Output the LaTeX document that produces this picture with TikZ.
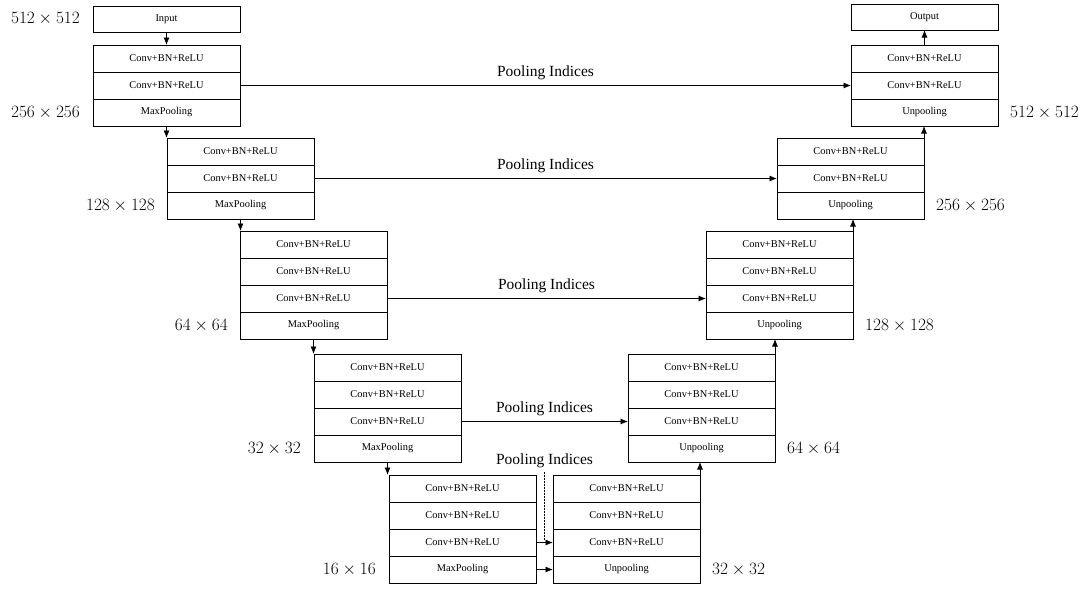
\documentclass[tikz,border=0pt]{standalone}
\usepackage{fontspec}
\setmainfont{Liberation Serif}
\usetikzlibrary{positioning,arrows.meta}

\begin{document}
\begin{tikzpicture}[
            x=1pt, y=1pt,
            >={Latex[length=7.5pt,width=6pt]},
            layer/.style={
                rectangle, draw=black, line width=0.8pt,
                minimum width=147pt, minimum height=27pt,
                inner sep=0pt, outer sep=0pt,
                font=\fontsize{10.4}{12}\selectfont
            },
            iobox/.style={layer, minimum height=26pt},
            size/.style={font=\fontsize{16.5}{18}\selectfont, inner sep=0pt},
            indices/.style={font=\fontsize{15.5}{18}\selectfont, above=1.5pt, midway},
            link/.style={->, line width=0.8pt},
        ]

            \useasboundingbox (0,0) rectangle (1089,-589);

            % encoder
            \node [iobox, anchor=north west] (input) at (93,-6) {Input};
            \node [layer, anchor=north west] (e1a) at (93,-45) {Conv+BN+ReLU};
            \node [layer] (e1b) [ below=0pt of e1a ] {Conv+BN+ReLU};
            \node [layer] (e1c) [ below=0pt of e1b ] {MaxPooling};

            \node [layer, anchor=north west] (e2a) at (167,-138) {Conv+BN+ReLU};
            \node [layer] (e2b) [ below=0pt of e2a ] {Conv+BN+ReLU};
            \node [layer] (e2c) [ below=0pt of e2b ] {MaxPooling};

            \node [layer, anchor=north west] (e3a) at (240,-231) {Conv+BN+ReLU};
            \node [layer] (e3b) [ below=0pt of e3a ] {Conv+BN+ReLU};
            \node [layer] (e3c) [ below=0pt of e3b ] {Conv+BN+ReLU};
            \node [layer] (e3d) [ below=0pt of e3c ] {MaxPooling};

            \node [layer, anchor=north west] (e4a) at (314,-354) {Conv+BN+ReLU};
            \node [layer] (e4b) [ below=0pt of e4a ] {Conv+BN+ReLU};
            \node [layer] (e4c) [ below=0pt of e4b ] {Conv+BN+ReLU};
            \node [layer] (e4d) [ below=0pt of e4c ] {MaxPooling};

            \node [layer, anchor=north west] (e5a) at (389,-475) {Conv+BN+ReLU};
            \node [layer] (e5b) [ below=0pt of e5a ] {Conv+BN+ReLU};
            \node [layer] (e5c) [ below=0pt of e5b ] {Conv+BN+ReLU};
            \node [layer] (e5d) [ below=0pt of e5c ] {MaxPooling};

            % decoder
            \node [iobox, anchor=north west] (output) at (851,-4) {Output};
            \node [layer, anchor=north west] (d1a) at (851,-45) {Conv+BN+ReLU};
            \node [layer] (d1b) [ below=0pt of d1a ] {Conv+BN+ReLU};
            \node [layer] (d1c) [ below=0pt of d1b ] {Unpooling};

            \node [layer, anchor=north west] (d2a) at (777,-138) {Conv+BN+ReLU};
            \node [layer] (d2b) [ below=0pt of d2a ] {Conv+BN+ReLU};
            \node [layer] (d2c) [ below=0pt of d2b ] {Unpooling};

            \node [layer, anchor=north west] (d3a) at (706,-231) {Conv+BN+ReLU};
            \node [layer] (d3b) [ below=0pt of d3a ] {Conv+BN+ReLU};
            \node [layer] (d3c) [ below=0pt of d3b ] {Conv+BN+ReLU};
            \node [layer] (d3d) [ below=0pt of d3c ] {Unpooling};

            \node [layer, anchor=north west] (d4a) at (628,-354) {Conv+BN+ReLU};
            \node [layer] (d4b) [ below=0pt of d4a ] {Conv+BN+ReLU};
            \node [layer] (d4c) [ below=0pt of d4b ] {Conv+BN+ReLU};
            \node [layer] (d4d) [ below=0pt of d4c ] {Unpooling};

            \node [layer, anchor=north west] (d5a) at (553,-475) {Conv+BN+ReLU};
            \node [layer] (d5b) [ below=0pt of d5a ] {Conv+BN+ReLU};
            \node [layer] (d5c) [ below=0pt of d5b ] {Conv+BN+ReLU};
            \node [layer] (d5d) [ below=0pt of d5c ] {Unpooling};

            % sizes
            \node [size] (s512l) [ left=13pt of input ] {$512\times512$};
            \node [size] (s256l) [ left=13pt of e1c ]   {$256\times256$};
            \node [size] (s128l) [ left=12pt of e2c ]   {$128\times128$};
            \node [size] (s64l)  [ left=12pt of e3d ]   {$64\times64$};
            \node [size] (s32l)  [ left=13pt of e4d ]   {$32\times32$};
            \node [size] (s16l)  [ left=13pt of e5d ]   {$16\times16$};
            \node [size] (s512r) [ right=12pt of d1c ]  {$512\times512$};
            \node [size] (s256r) [ right=12pt of d2c ]  {$256\times256$};
            \node [size] (s128r) [ right=12pt of d3d ]  {$128\times128$};
            \node [size] (s64r)  [ right=12pt of d4d ]  {$64\times64$};
            \node [size] (s32r)  [ right=12pt of d5d ]  {$32\times32$};

            % down and up
            \draw [link] (input) -- (e1a);
            \draw [link] (e1c.south) -- (e1c.south |- e2a.north);
            \draw [link] (e2c.south) -- (e2c.south |- e3a.north);
            \draw [link] (e3d.south) -- (e3d.south |- e4a.north);
            \draw [link] (e4d.south) -- (e4d.south |- e5a.north);
            \draw [link] (e5c) -- (d5c);
            \draw [link] (e5d) -- (d5d);
            \draw [link] (d5a.north east) -- (d5a.north east |- d4d.south);
            \draw [link] (d4a.north east) -- (d4a.north east |- d3d.south);
            \draw [link] (d3a.north east) -- (d3a.north east |- d2c.south);
            \draw [link] (d2a.north east) -- (d2a.north east |- d1c.south);
            \draw [link] (d1a) -- (output);

            % pooling indices
            \draw [link] (e1b) -- (d1b) node [indices] {Pooling Indices};
            \draw [link] (e2b) -- (d2b) node [indices] {Pooling Indices};
            \draw [link] (e3c) -- (d3c) node [indices] {Pooling Indices};
            \draw [link] (e4c) -- (d4c) node [indices] {Pooling Indices};
            \node [font=\fontsize{15.5}{18}\selectfont] (pi5) at (544.5,-461) {Pooling Indices};
            \draw [dashed, line width=0.5pt, dash pattern=on 2pt off 1pt] (pi5.south) -- ([yshift=2pt]pi5.south |- e5c.east);

        \end{tikzpicture}
\end{document}
